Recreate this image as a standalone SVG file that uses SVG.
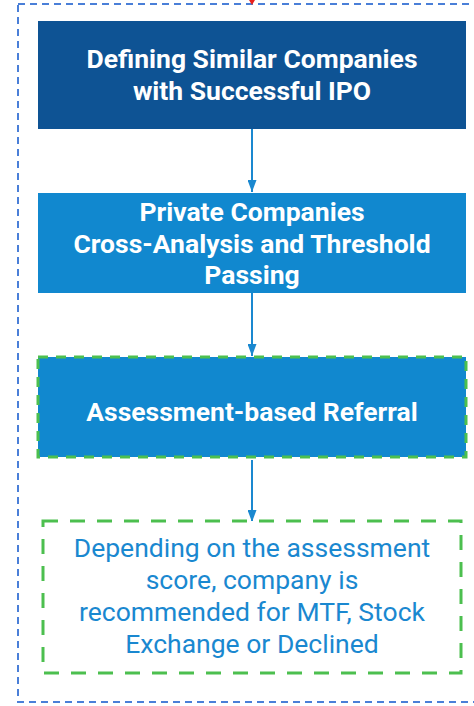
<svg xmlns="http://www.w3.org/2000/svg" width="474" height="706" viewBox="0 0 474 706">
<defs>
<style>
.title{font-family:Roboto,"Liberation Sans",sans-serif;font-weight:bold;font-size:26.5px;fill:#ffffff;text-anchor:middle}
.note{font-family:Roboto,"Liberation Sans",sans-serif;font-size:26.5px;fill:#1a88d0;text-anchor:middle}
.conn{stroke:#1a88d0;stroke-width:2;fill:none}
</style>
<marker id="ah" viewBox="0 0 12 9" refX="12" refY="4.5" markerWidth="6" markerHeight="4.5" markerUnits="strokeWidth" orient="auto">
<path d="M0,0 L12,4.5 L0,9 Z" fill="#1a88d0"/>
</marker>
</defs>
<rect x="0" y="0" width="474" height="706" fill="#ffffff"/>
<g id="frame">
<rect x="18" y="4" width="470" height="698" fill="none" stroke="#4a7fd8" stroke-width="2" stroke-dasharray="7,5"/>
<path d="M249,0 L255,0 L252,5 Z" fill="#e8201c"/>
</g>
<g id="connectors">
<line class="conn" x1="252" y1="129" x2="252" y2="192" marker-end="url(#ah)"/>
<line class="conn" x1="252" y1="293" x2="252" y2="356" marker-end="url(#ah)"/>
<line class="conn" x1="252" y1="460" x2="252" y2="522" marker-end="url(#ah)"/>
</g>
<g id="node1">
<rect x="38" y="21" width="428" height="108" fill="#0e5394"/>
<text class="title" x="252" y="68">Defining Similar Companies</text>
<text class="title" x="252" y="100">with Successful IPO</text>
</g>
<g id="node2">
<rect x="38" y="193" width="428" height="100" fill="#1188cf"/>
<text class="title" x="252" y="221">Private Companies</text>
<text class="title" x="252" y="253">Cross-Analysis and Threshold</text>
<text class="title" x="252" y="284">Passing</text>
</g>
<g id="node3">
<rect x="38" y="357" width="428" height="100" fill="#1188cf" stroke="#4cbf4f" stroke-width="3" stroke-dasharray="10,8"/>
<text class="title" x="252" y="421">Assessment-based Referral</text>
</g>
<g id="node4">
<rect x="43" y="521" width="418" height="152" fill="#ffffff" stroke="#4cbf4f" stroke-width="3" stroke-dasharray="15,12"/>
<text class="note" x="252" y="557">Depending on the assessment</text>
<text class="note" x="252" y="589">score, company is</text>
<text class="note" x="252" y="621">recommended for MTF, Stock</text>
<text class="note" x="252" y="653">Exchange or Declined</text>
</g>
</svg>
